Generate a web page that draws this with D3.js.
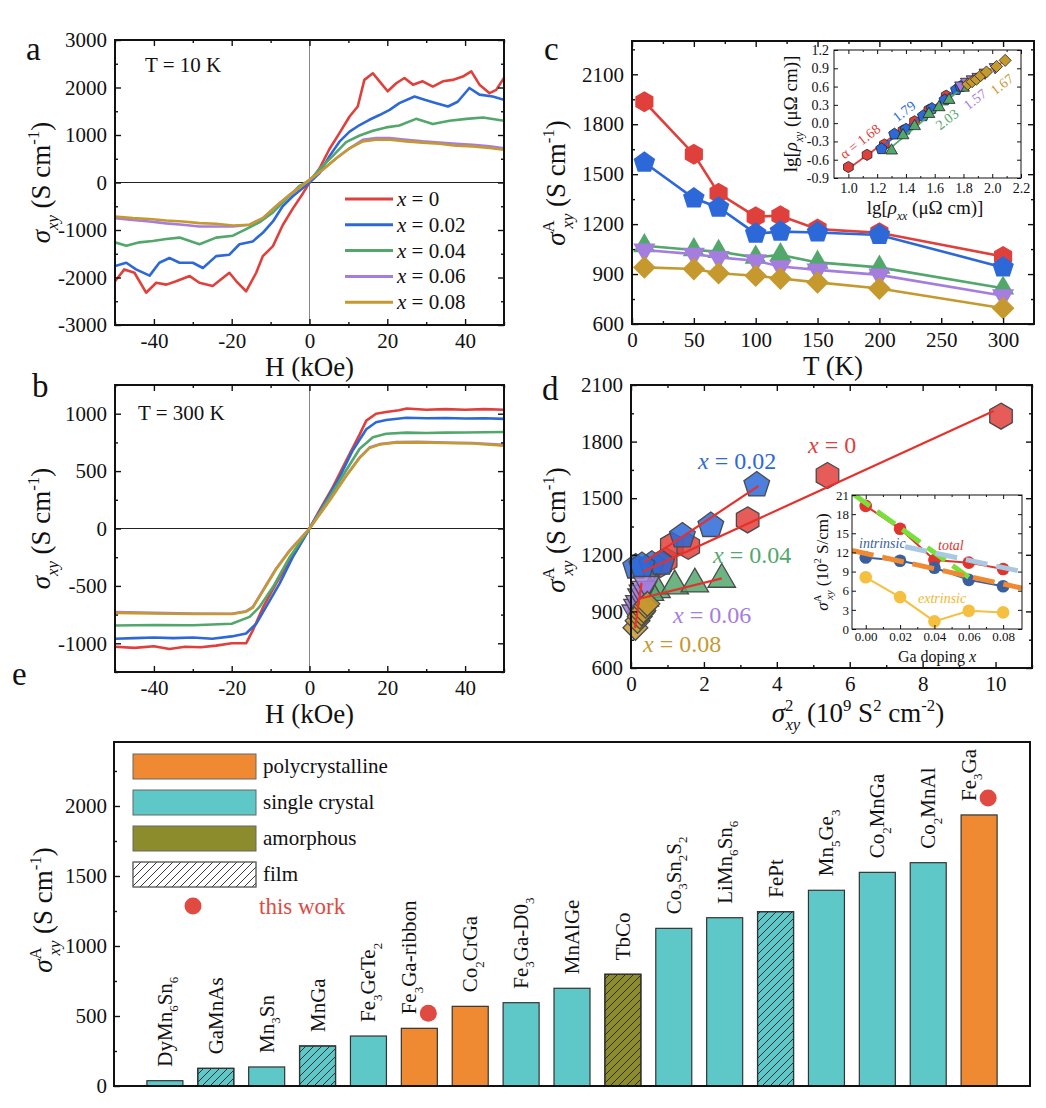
<!DOCTYPE html>
<html>
<head>
<meta charset="utf-8">
<script src="https://cdn.jsdelivr.net/npm/d3@7"></script>
<style>
body { margin: 0; background: #fff; }
svg { display: block; }
text { font-family: "Liberation Serif", "Times New Roman", serif; }
</style>
</head>
<body>
<svg id="fig" width="1046" height="1108"></svg>
<script>
// ---------- data ----------
var sampleNames = ['0', '0.02', '0.04', '0.06', '0.08'];
var sampleColors = ['#e0403c', '#2d68d8', '#52a76b', '#a57ddf', '#c6992f'];

// panel a : sigma_xy vs H at 10 K  [H (kOe), sigma (S/cm)]
var loopA0 = [[-50,-2080],[-47.6,-1830],[-45,-1900],[-42,-2320],[-39.4,-2110],[-36.8,-2150],[-34.3,-2080],[-30.8,-1970],[-28.3,-2110],[-24.9,-2180],[-20.6,-1900],[-18.8,-2080],[-16.3,-2290],[-13.7,-1900],[-12,-1550],[-9.4,-1340],[-6.9,-900],[-4.3,-550],[-1.7,-230],[0,0],[2.6,300],[5.1,700],[7.7,1040],[10.3,1390],[12.4,1600],[14.1,2160],[16.3,2300],[18,2130],[20.1,1920],[22.3,2090],[24.4,2200],[26.6,2060],[29.1,2130],[31.7,2020],[34.3,2130],[36.8,2160],[39.4,2230],[41.6,2340],[43.7,2060],[46.3,1880],[48,1950],[50,2200]];
var loopA2 = [[-50,-1760],[-47.1,-1690],[-44.6,-1830],[-41.1,-1960],[-38.6,-1690],[-36,-1590],[-33.4,-1690],[-30,-1690],[-27.4,-1800],[-24,-1550],[-20.6,-1520],[-18,-1300],[-14.6,-1240],[-12,-1060],[-9.4,-820],[-6.9,-500],[-4.3,-290],[-1.7,-115],[0,0],[2.6,200],[5.1,550],[7.7,860],[10.3,1070],[12.9,1210],[15.4,1320],[18,1420],[20.6,1530],[23.1,1670],[27,1810],[29.6,1740],[32.6,1670],[35.6,1600],[38.1,1700],[41.1,1990],[43.7,1850],[47.1,1810],[50,1740]];
var loopA4 = [[-50,-1260],[-47.1,-1330],[-43.7,-1260],[-40.3,-1230],[-36.8,-1190],[-33.4,-1160],[-28.3,-1300],[-24,-1160],[-19.7,-1120],[-16.3,-980],[-12.9,-840],[-9.4,-630],[-6,-350],[-2.6,-70],[0,40],[2.6,280],[6,560],[9.4,850],[12.9,990],[16.3,1090],[19.7,1160],[23.1,1200],[27.4,1340],[31.7,1230],[36,1300],[40.3,1340],[44.6,1370],[50,1300]];
var loopA6 = [[-50,-750],[-45.4,-790],[-41.1,-820],[-36.8,-860],[-32.6,-890],[-28.3,-925],[-24,-925],[-19.7,-925],[-15.4,-890],[-12,-750],[-8.6,-500],[-5.1,-260],[-1.7,-50],[0,55],[3.4,270],[6.9,510],[10.3,720],[13.7,900],[17.1,935],[20.6,935],[24.9,900],[29.1,865],[33.4,840],[37.7,815],[42,795],[46.3,760],[50,720]];
var loopA8 = [[-50,-715],[-45.4,-750],[-41.1,-770],[-36.8,-800],[-32.6,-820],[-28.3,-855],[-24,-870],[-19.7,-905],[-15.4,-890],[-12,-750],[-8.6,-500],[-5.1,-260],[-1.7,-50],[0,55],[3.4,270],[6.9,510],[10.3,720],[13.7,865],[17.1,900],[20.6,900],[24.9,865],[29.1,840],[33.4,815],[37.7,775],[42,760],[46.3,725],[50,690]];

// panel b : sigma_xy vs H at 300 K
var loopB0 = [[-50,-1030],[-45,-1040],[-40,-1025],[-36,-1050],[-32,-1030],[-28,-1035],[-24,-1020],[-20,-1000],[-16.3,-1000],[-14.6,-890],[-12,-690],[-8.6,-480],[-5.1,-280],[-2.6,-150],[0,0],[2.6,160],[6,360],[9.4,590],[12.9,820],[14.6,940],[17.1,1000],[19.7,1015],[23,1030],[25,1045],[30,1035],[35,1040],[40,1035],[45,1040],[50,1035]];
var loopB2 = [[-50,-960],[-45,-955],[-40,-950],[-35,-955],[-30,-950],[-25,-960],[-20,-940],[-16.3,-915],[-13.7,-830],[-11.2,-685],[-7.7,-480],[-4.3,-250],[0,0],[4.3,245],[7.7,445],[11.1,680],[14.6,865],[17.1,925],[19.7,945],[24.9,965],[30,960],[35,962],[40,958],[45,960],[50,955]];
var loopB4 = [[-50,-845],[-40,-840],[-30,-843],[-20,-830],[-15.4,-770],[-12.9,-685],[-9.4,-510],[-5.1,-250],[0,0],[5.1,270],[9.4,505],[12.9,695],[16.3,795],[19.7,825],[25,835],[30,832],[35,835],[40,836],[45,838],[50,840]];
var loopB6 = [[-50,-728],[-40,-735],[-30,-740],[-20,-742],[-16.3,-720],[-14.6,-685],[-12,-540],[-8.6,-350],[-5.1,-190],[0,0],[5.1,243],[9.4,460],[12.9,620],[15.4,705],[18,735],[22,752],[28,755],[35,748],[42,745],[50,728]];
var loopB8 = [[-50,-735],[-40,-740],[-30,-745],[-20,-745],[-16.3,-725],[-14.6,-690],[-12,-545],[-8.6,-355],[-5.1,-195],[0,0],[5.1,240],[9.4,455],[12.9,615],[15.4,700],[18,732],[22,748],[28,750],[35,745],[42,740],[50,722]];

// panel c : anomalous Hall conductivity vs T
var temps = [10, 50, 70, 100, 120, 150, 200, 300];
var sigA0 = [1935, 1620, 1385, 1245, 1250, 1170, 1148, 1005];
var sigA2 = [1570, 1355, 1300, 1143, 1155, 1150, 1135, 940];
var sigA4 = [1070, 1045, 1035, 1000, 1015, 970, 940, 815];
var sigA6 = [1045, 1020, 1000, 980, 945, 925, 895, 770];
var sigA8 = [940, 930, 905, 890, 873, 850, 813, 695];

// panel c inset : lg(rho_xx), lg(rho_xy)
var lgR0 = [[1.0,-0.72],[1.13,-0.52],[1.25,-0.35],[1.38,-0.12],[1.46,0.03],[1.56,0.22],[1.68,0.45]];
var lgR2 = [[1.23,-0.42],[1.32,-0.18],[1.40,-0.10],[1.52,0.12],[1.58,0.24],[1.67,0.38],[1.75,0.55],[1.78,0.60]];
var lgR4 = [[1.30,-0.45],[1.38,-0.20],[1.46,-0.05],[1.56,0.15],[1.63,0.26],[1.70,0.38],[1.80,0.58]];
var lgR6 = [[1.78,0.62],[1.82,0.68],[1.86,0.72],[1.90,0.76],[1.95,0.83],[2.02,0.92]];
var lgR8 = [[1.83,0.64],[1.86,0.68],[1.89,0.72],[1.92,0.78],[1.96,0.84],[2.03,0.93],[2.09,1.03]];
var alphaLabels = ['\u03b1 = 1.68', '1.79', '2.03', '1.57', '1.67'];

// panel d : sigma_xy^2 (1e9 S^2/cm^2) for T = 10 ... 200 K
var s2x0 = [10.15, 5.39, 3.2, 1.57, 1.12, 0.95, 0.8];
var s2x2 = [3.45, 2.19, 1.41, 0.3, 0.84, 0.57, 0.13];
var s2x4 = [2.49, 1.75, 1.2, 0.52, 0.7, 0.38, 0.28];
var s2x6 = [0.42, 0.36, 0.3, 0.26, 0.2, 0.15, 0.1];
var s2x8 = [0.45, 0.4, 0.34, 0.29, 0.24, 0.18, 0.12];
var dFit0 = [[0.32, 1110], [9.95, 1962]];
var dFit2 = [[0.35, 1160], [3.5, 1565]];
var dFit4 = [[0.2, 966], [2.49, 1075]];
var dFit6 = [[0.29, 1052], [0.2, 935]];
var dFit8 = [[0.22, 960], [0.11, 812]];

// panel d inset
var gaX = [0, 0.02, 0.04, 0.06, 0.08];
var totalAHC = [19.3, 15.7, 10.8, 10.4, 9.4];
var intrinsicAHC = [11.2, 10.7, 9.6, 7.7, 6.7];
var extrinsicAHC = [8.1, 5.0, 1.2, 2.85, 2.6];
var guideGreen = [[-0.008, 21.3], [0.06, 8.1]];
var guideBlue = [[0.023, 12.9], [0.091, 9.0]];
var guideOrange = [[-0.008, 12.3], [0.091, 6.4]];

// panel e : comparison of materials
var materials = ['DyMn_6Sn_6','GaMnAs','Mn_3Sn','MnGa','Fe_3GeTe_2','Fe_3Ga-ribbon','Co_2CrGa','Fe_3Ga-D0_3','MnAlGe','TbCo','Co_3Sn_2S_2','LiMn_6Sn_6','FePt','Mn_5Ge_3','Co_2MnGa','Co_2MnAl','Fe_3Ga'];
var ahcValues = [38, 126, 136, 286, 357, 412, 569, 595, 698, 798, 1126, 1202, 1245, 1398, 1526, 1595, 1936];
var crystalType = ['single','single','single','single','single','poly','poly','single','single','amorphous','single','single','single','single','single','single','poly'];
var isFilm = [0, 1, 0, 1, 0, 0, 0, 0, 0, 1, 0, 0, 1, 0, 0, 0, 0];
var thisWorkNames = ['Fe_3Ga-ribbon', 'Fe_3Ga'];
var thisWorkValues = [520, 2057];
var legendTypes = ['poly', 'single', 'amorphous', 'film'];
var legendNames = ['polycrystalline', 'single crystal', 'amorphous', 'film'];

// ---------- helpers ----------
var SERIF = '"Liberation Serif","Times New Roman",serif';
var svg = d3.select('#fig');
var typeColor = { poly: '#ef8a33', single: '#5ec8c8', amorphous: '#8c8c2c', film: '#ffffff' };

var defs = svg.append('defs');
defs.append('pattern').attr('id', 'hatch').attr('patternUnits', 'userSpaceOnUse')
	.attr('width', 8).attr('height', 8)
	.append('path').attr('d', 'M0,8 L8,0 M-2,2 L2,-2 M6,10 L10,6')
	.attr('stroke', '#222').attr('stroke-width', 0.9);

function rich(t, segs, fs) {
	var base = 0;
	segs.forEach(function(s) {
		var o = (typeof s === 'string') ? { t: s } : s;
		var sp = t.append('tspan').text(o.t);
		var target = o.sub ? 0.3 * fs : (o.sup ? -0.42 * fs : 0);
		if (o.back) sp.attr('dx', -o.back * fs);
		if (target !== base) sp.attr('dy', target - base);
		base = target;
		if (o.sub || o.sup) sp.attr('font-size', 0.62 * fs);
		if (o.i) sp.attr('font-style', 'italic');
	});
	return t;
}

function label(x, y, segs, fs, opt) {
	opt = opt || {};
	var t = svg.append('text').attr('x', x).attr('y', y)
		.attr('font-size', fs).attr('font-family', SERIF)
		.attr('text-anchor', opt.anchor || 'middle')
		.attr('fill', opt.fill || '#111');
	if (opt.rot) t.attr('transform', 'rotate(' + opt.rot + ',' + x + ',' + y + ')');
	if (opt.italic) t.attr('font-style', 'italic');
	return rich(t, segs, fs);
}

function poly(n, r, rot) {
	var pts = d3.range(n).map(function(i) {
		var a = -Math.PI / 2 + rot + i * 2 * Math.PI / n;
		return [(r * Math.cos(a)).toFixed(2), (r * Math.sin(a)).toFixed(2)];
	});
	return 'M' + pts.join('L') + 'Z';
}
function marker(k, r) {
	switch (k) {
	case 0: return poly(6, r, 0);
	case 1: return poly(5, r * 1.08, 0);
	case 2: return poly(3, r * 1.22, 0);
	case 3: return poly(3, r * 1.22, Math.PI);
	default: return poly(4, r * 1.08, 0);
	}
}

function frame(p, x, y, o) {
	var g = svg.append('g');
	var ts = o.ts || 6, ms = o.ms || 3;
	var sides = [
		[d3.axisBottom, x, 'translate(0,' + p.b + ')', o.xt, o.xm, o.xf],
		[d3.axisLeft, y, 'translate(' + p.l + ',0)', o.yt, o.ym, o.yf]
	];
	if (o.mirror !== false) {
		sides.push([d3.axisTop, x, 'translate(0,' + p.t + ')', o.xt, o.xm, null]);
		sides.push([d3.axisRight, y, 'translate(' + p.r + ',0)', o.yt, o.ym, null]);
	}
	sides.forEach(function(s) {
		if (!s[3]) return;
		g.append('g').attr('transform', s[2])
			.call(s[0](s[1]).tickValues(s[3]).tickSize(-ts).tickPadding(o.tp || 7)
				.tickFormat(s[5] || function() { return ''; }));
		if (s[4]) g.append('g').attr('transform', s[2])
			.call(s[0](s[1]).tickValues(s[4]).tickSize(-ms).tickFormat(function() { return ''; }));
	});
	g.selectAll('.domain').remove();
	g.selectAll('.tick line').attr('stroke', '#111').attr('stroke-width', o.tw || 1.4);
	g.selectAll('text').attr('font-family', SERIF).attr('font-size', o.fs || 21).attr('fill', '#111');
	g.append('rect').attr('x', p.l).attr('y', p.t).attr('width', p.r - p.l).attr('height', p.b - p.t)
		.attr('fill', 'none').attr('stroke', '#111').attr('stroke-width', o.sw || 2);
	return g;
}

function clip(id, p) {
	defs.append('clipPath').attr('id', id).append('rect')
		.attr('x', p.l).attr('y', p.t).attr('width', p.r - p.l).attr('height', p.b - p.t);
	return 'url(#' + id + ')';
}

var sigXY = [{ t: '\u03c3', i: 1 }, { t: 'xy', sub: 1, i: 1 }, ' (S cm', { t: '-1', sup: 1 }, ')'];
var sigAXY = [{ t: '\u03c3', i: 1 }, { t: 'A', sup: 1 }, { t: 'xy', sub: 1, i: 1, back: 0.3 }, ' (S cm', { t: '-1', sup: 1 }, ')'];
function str(d) { return String(d); }

// ---------- panels a and b ----------
function loopPanel(p, yDom, loops, opt) {
	var x = d3.scaleLinear().domain([-50, 50]).range([p.l, p.r]);
	var y = d3.scaleLinear().domain(yDom).range([p.b, p.t]);
	var cp = clip(opt.id, p);
	svg.append('line').attr('x1', x(0)).attr('x2', x(0)).attr('y1', p.t).attr('y2', p.b)
		.attr('stroke', '#888').attr('stroke-width', 1);
	svg.append('line').attr('x1', p.l).attr('x2', p.r).attr('y1', y(0)).attr('y2', y(0))
		.attr('stroke', '#222').attr('stroke-width', 1);
	var line = d3.line().x(function(d) { return x(d[0]); }).y(function(d) { return y(d[1]); });
	var lg = svg.append('g').attr('clip-path', cp);
	loops.forEach(function(l, i) {
		lg.append('path').attr('d', line(l)).attr('fill', 'none')
			.attr('stroke', sampleColors[i]).attr('stroke-width', 2.6).attr('stroke-linejoin', 'round');
	});
	frame(p, x, y, {
		xt: [-40, -20, 0, 20, 40], xm: [-50, -30, -10, 10, 30, 50], xf: str,
		yt: opt.yt, ym: opt.ym, yf: str, tp: 8
	});
	label((p.l + p.r) / 2, p.b + 51, ['H (kOe)'], 27);
	label(50, (p.t + p.b) / 2, sigXY, 27, { rot: -90 });
	label(opt.tx, opt.ty, ['T = ' + opt.T + ' K'], 21, { anchor: 'start' });
}

var pA = { l: 115, r: 504, t: 40, b: 325 };
var pB = { l: 115, r: 504, t: 385, b: 672 };
loopPanel(pA, [-3000, 3000], [loopA0, loopA2, loopA4, loopA6, loopA8], {
	id: 'ca', yt: [-3000, -2000, -1000, 0, 1000, 2000, 3000], ym: [-2500, -1500, -500, 500, 1500, 2500],
	T: 10, tx: 145, ty: 72
});
loopPanel(pB, [-1250, 1250], [loopB0, loopB2, loopB4, loopB6, loopB8], {
	id: 'cb', yt: [-1000, -500, 0, 500, 1000], ym: [-1250, -750, -250, 250, 750, 1250],
	T: 300, tx: 138, ty: 420
});

// legend for panel a
var legA = svg.append('g').selectAll('g').data(sampleNames).enter().append('g')
	.attr('transform', function(d, i) { return 'translate(345,' + (199 + i * 25.8) + ')'; });
legA.append('line').attr('x1', 0).attr('x2', 48)
	.attr('stroke', function(d, i) { return sampleColors[i]; }).attr('stroke-width', 3);
legA.each(function(d) {
	var t = d3.select(this).append('text').attr('x', 52).attr('y', 7)
		.attr('font-family', SERIF).attr('font-size', 21).attr('fill', '#111');
	rich(t, [{ t: 'x', i: 1 }, ' = ' + d], 21);
});

// ---------- panel c ----------
var pC = { l: 632, r: 1034, t: 41, b: 324 };
var xC = d3.scaleLinear().domain([0, 325]).range([pC.l, pC.r]);
var yC = d3.scaleLinear().domain([600, 2300]).range([pC.b, pC.t]);
var sigAll = [sigA0, sigA2, sigA4, sigA6, sigA8];
var lineC = d3.line().x(function(d, i) { return xC(temps[i]); }).y(function(d) { return yC(d); });
sigAll.forEach(function(s, k) {
	svg.append('path').attr('d', lineC(s)).attr('fill', 'none')
		.attr('stroke', sampleColors[k]).attr('stroke-width', 2.6);
	svg.append('g').selectAll('path').data(s).enter().append('path')
		.attr('d', marker(k, 10.5))
		.attr('transform', function(d, i) { return 'translate(' + xC(temps[i]) + ',' + yC(d) + ')'; })
		.attr('fill', sampleColors[k]);
});
frame(pC, xC, yC, {
	xt: [0, 50, 100, 150, 200, 250, 300], xm: [25, 75, 125, 175, 225, 275], xf: str,
	yt: [600, 900, 1200, 1500, 1800, 2100], ym: [750, 1050, 1350, 1650, 1950, 2250], yf: str, tp: 8
});
label(833, 375, ['T (K)'], 27);
label(565, 183, sigAXY, 27, { rot: -90 });

// inset of panel c
var pCi = { l: 834, r: 1021, t: 50, b: 178 };
var xCi = d3.scaleLinear().domain([0.9, 2.2]).range([pCi.l, pCi.r]);
var yCi = d3.scaleLinear().domain([-0.9, 1.2]).range([pCi.b, pCi.t]);
svg.append('rect').attr('x', pCi.l).attr('y', pCi.t).attr('width', pCi.r - pCi.l).attr('height', pCi.b - pCi.t).attr('fill', '#fff');
[lgR0, lgR2, lgR4, lgR6, lgR8].forEach(function(pts, k) {
	// least-squares line through each group
	var mx = d3.mean(pts, function(d) { return d[0]; }), my = d3.mean(pts, function(d) { return d[1]; });
	var sxy = d3.sum(pts, function(d) { return (d[0] - mx) * (d[1] - my); });
	var sxx = d3.sum(pts, function(d) { return (d[0] - mx) * (d[0] - mx); });
	var b = sxy / sxx, x0 = d3.min(pts, function(d) { return d[0]; }), x1 = d3.max(pts, function(d) { return d[0]; });
	svg.append('line').attr('x1', xCi(x0)).attr('x2', xCi(x1))
		.attr('y1', yCi(my + b * (x0 - mx))).attr('y2', yCi(my + b * (x1 - mx)))
		.attr('stroke', sampleColors[k]).attr('stroke-width', 1.8);
	svg.append('g').selectAll('path').data(pts).enter().append('path')
		.attr('d', marker(k, 5.6))
		.attr('transform', function(d) { return 'translate(' + xCi(d[0]) + ',' + yCi(d[1]) + ')'; })
		.attr('fill', sampleColors[k]).attr('stroke', '#222').attr('stroke-width', 0.8);
});
frame(pCi, xCi, yCi, {
	xt: [1.0, 1.2, 1.4, 1.6, 1.8, 2.0, 2.2], xm: [1.1, 1.3, 1.5, 1.7, 1.9, 2.1], xf: function(d) { return d.toFixed(1); },
	yt: [-0.9, -0.6, -0.3, 0, 0.3, 0.6, 0.9, 1.2], yf: function(d) { return d.toFixed(1); },
	ts: 4, ms: 2, fs: 14, tp: 5, sw: 1, tw: 1
});
var alphaPos = [[863, 140], [907, 110], [950, 118], [978, 98], [1005, 83]];
alphaLabels.forEach(function(a, k) {
	label(alphaPos[k][0], alphaPos[k][1] + 5, [a], 14, { rot: -38, fill: sampleColors[k] });
});
label(925, 214, ['lg[', { t: '\u03c1', i: 1 }, { t: 'xx', sub: 1, i: 1 }, ' (\u03bc\u03a9 cm)]'], 19);
label(797, 114, ['lg[', { t: '\u03c1', i: 1 }, { t: 'xy', sub: 1, i: 1 }, ' (\u03bc\u03a9 cm)]'], 19, { rot: -90 });

// ---------- panel d ----------
var pD = { l: 631, r: 1032, t: 385, b: 668 };
var xD = d3.scaleLinear().domain([0, 11]).range([pD.l, pD.r]);
var yD = d3.scaleLinear().domain([600, 2100]).range([pD.b, pD.t]);
var s2All = [s2x0, s2x2, s2x4, s2x6, s2x8];
var dRadius = [13, 12.5, 13, 12, 11.5];
s2All.forEach(function(xs, k) {
	svg.append('g').selectAll('path').data(xs.map(function(v, i) { return [v, sigAll[k][i]]; }).reverse())
		.enter().append('path')
		.attr('d', marker(k, dRadius[k]))
		.attr('transform', function(d) { return 'translate(' + xD(d[0]) + ',' + yD(d[1]) + ')'; })
		.attr('fill', sampleColors[k]).attr('fill-opacity', 0.85)
		.attr('stroke', '#4a4a4a').attr('stroke-width', 1.3);
});
[dFit0, dFit2, dFit4, dFit6, dFit8].forEach(function(f) {
	svg.append('line').attr('x1', xD(f[0][0])).attr('y1', yD(f[0][1]))
		.attr('x2', xD(f[1][0])).attr('y2', yD(f[1][1]))
		.attr('stroke', '#e8302b').attr('stroke-width', 2.2);
});
frame(pD, xD, yD, {
	xt: [0, 2, 4, 6, 8, 10], xm: [1, 3, 5, 7, 9, 11], xf: str,
	yt: [600, 900, 1200, 1500, 1800, 2100], ym: [750, 1050, 1350, 1650, 1950], yf: str, tp: 8
});
label(858, 722, [{ t: '\u03c3', i: 1 }, { t: '2', sup: 1 }, { t: 'xy', sub: 1, i: 1, back: 0.3 }, ' (10', { t: '9', sup: 1 }, ' S', { t: '2', sup: 1 }, ' cm', { t: '-2', sup: 1 }, ')'], 27);
label(565, 530, sigAXY, 27, { rot: -90 });
var dLabelPos = [[808, 453], [698, 469], [713, 563], [673, 623], [643, 652]];
sampleNames.forEach(function(n, k) {
	label(dLabelPos[k][0], dLabelPos[k][1], [{ t: 'x', i: 1 }, ' = ' + n], 24, { anchor: 'start', fill: sampleColors[k] });
});

// inset of panel d
var pDi = { l: 852, r: 1022, t: 495, b: 629 };
var xDi = d3.scaleLinear().domain([-0.008, 0.091]).range([pDi.l, pDi.r]);
var yDi = d3.scaleLinear().domain([0, 21]).range([pDi.b, pDi.t]);
svg.append('rect').attr('x', pDi.l).attr('y', pDi.t).attr('width', pDi.r - pDi.l).attr('height', pDi.b - pDi.t).attr('fill', '#fff');
var cpDi = clip('cdi', pDi);
var lineDi = d3.line().x(function(d, i) { return xDi(gaX[i]); }).y(function(d) { return yDi(d); });
var insetSeries = [totalAHC, intrinsicAHC, extrinsicAHC];
var insetColors = ['#e0352f', '#3a5f9e', '#f5c040'];
insetSeries.forEach(function(s, k) {
	svg.append('path').attr('d', lineDi(s)).attr('fill', 'none').attr('stroke', insetColors[k]).attr('stroke-width', 2);
	svg.append('g').selectAll('circle').data(s).enter().append('circle')
		.attr('cx', function(d, i) { return xDi(gaX[i]); }).attr('cy', function(d) { return yDi(d); })
		.attr('r', 6.3).attr('fill', insetColors[k]);
});
var guideG = svg.append('g').attr('clip-path', cpDi);
[[guideGreen, '#79e03a'], [guideBlue, '#a9c8e2'], [guideOrange, '#ef8a32']].forEach(function(gd) {
	guideG.append('line').attr('x1', xDi(gd[0][0][0])).attr('y1', yDi(gd[0][0][1]))
		.attr('x2', xDi(gd[0][1][0])).attr('y2', yDi(gd[0][1][1]))
		.attr('stroke', gd[1]).attr('stroke-width', 5).attr('stroke-dasharray', '22,9');
});
frame(pDi, xDi, yDi, {
	xt: [0, 0.02, 0.04, 0.06, 0.08], xm: [0.01, 0.03, 0.05, 0.07], xf: function(d) { return d.toFixed(2); },
	yt: [0, 3, 6, 9, 12, 15, 18, 21], yf: str,
	ts: 4, ms: 2, fs: 13, tp: 3, sw: 1, tw: 1
});
label(859, 548, ['intrinsic'], 14, { anchor: 'start', italic: 1, fill: '#3a5f9e' });
label(938, 550, ['total'], 14, { anchor: 'start', italic: 1, fill: '#e0352f' });
label(918, 603, ['extrinsic'], 14, { anchor: 'start', italic: 1, fill: '#f0b830' });
label(937, 662, ['Ga doping ', { t: 'x', i: 1 }], 16);
label(828, 562, [{ t: '\u03c3', i: 1 }, { t: 'A', sup: 1 }, { t: 'xy', sub: 1, i: 1, back: 0.3 }, ' (10', { t: '2', sup: 1 }, ' S/cm)'], 17, { rot: -90 });

// ---------- panel e ----------
var pE = { l: 114, r: 1030, t: 742, b: 1086 };
var xE = d3.scalePoint().domain(materials).range([pE.l, pE.r]).padding(1);
var yE = d3.scaleLinear().domain([0, 2457]).range([pE.b, pE.t]);
var barW = 36;
var bars = svg.append('g').selectAll('g').data(materials).enter().append('g');
bars.append('rect')
	.attr('x', function(d) { return xE(d) - barW / 2; })
	.attr('y', function(d, i) { return yE(ahcValues[i]); })
	.attr('width', barW)
	.attr('height', function(d, i) { return yE(0) - yE(ahcValues[i]); })
	.attr('fill', function(d, i) { return typeColor[crystalType[i]]; })
	.attr('stroke', '#333').attr('stroke-width', 1.2);
bars.filter(function(d, i) { return isFilm[i]; }).append('rect')
	.attr('x', function(d) { return xE(d) - barW / 2; })
	.attr('y', function(d) { return yE(ahcValues[materials.indexOf(d)]); })
	.attr('width', barW)
	.attr('height', function(d) { return yE(0) - yE(ahcValues[materials.indexOf(d)]); })
	.attr('fill', 'url(#hatch)').attr('stroke', '#333').attr('stroke-width', 1.2);
bars.each(function(d, i) {
	// labels next to a red dot sit a little to the left
	var shift = thisWorkNames.indexOf(d) >= 0 ? -10 : 0;
	var x = xE(d) + 7 + shift, y = yE(ahcValues[i]) - 14;
	var t = d3.select(this).append('text').attr('x', x).attr('y', y)
		.attr('transform', 'rotate(-90,' + x + ',' + y + ')')
		.attr('font-family', SERIF).attr('font-size', 21).attr('fill', '#111');
	var segs = [];
	d.split(/(_\d)/).forEach(function(p) {
		if (!p) return;
		if (p[0] === '_') segs.push({ t: p.slice(1), sub: 1 });
		else segs.push(p);
	});
	rich(t, segs, 21);
});
svg.append('g').selectAll('circle').data(thisWorkNames).enter().append('circle')
	.attr('cx', function(d) { return xE(d) + 9; })
	.attr('cy', function(d, i) { return yE(thisWorkValues[i]); })
	.attr('r', 8.5).attr('fill', '#e04a40');
frame(pE, xE, yE, {
	yt: [0, 500, 1000, 1500, 2000], ym: [250, 750, 1250, 1750, 2250], yf: str,
	mirror: false, tp: 7
});
label(52, 910, sigAXY, 27, { rot: -90 });

// legend for panel e
var legE = svg.append('g').selectAll('g').data(legendTypes).enter().append('g')
	.attr('transform', function(d, i) { return 'translate(133,' + (754 + i * 36) + ')'; });
legE.append('rect').attr('width', 123).attr('height', 25)
	.attr('fill', function(d) { return typeColor[d]; })
	.attr('stroke', '#666').attr('stroke-width', 1);
legE.filter(function(d) { return d === 'film'; }).append('rect').attr('width', 123).attr('height', 25)
	.attr('fill', 'url(#hatch)').attr('stroke', '#666').attr('stroke-width', 1);
legE.append('text').attr('x', 130).attr('y', 19)
	.attr('font-family', SERIF).attr('font-size', 21).attr('fill', '#111')
	.text(function(d, i) { return legendNames[i]; });
svg.append('circle').attr('cx', 193).attr('cy', 906).attr('r', 8.5).attr('fill', '#e04a40');
label(259, 914, ['this work'], 23, { anchor: 'start', fill: '#e04a40' });

// ---------- panel letters ----------
[['a', 26, 60], ['b', 32, 397], ['c', 544, 60], ['d', 542, 400], ['e', 12, 685]].forEach(function(l) {
	label(l[1], l[2], [l[0]], 33, { anchor: 'start' });
});
</script>
</body>
</html>
